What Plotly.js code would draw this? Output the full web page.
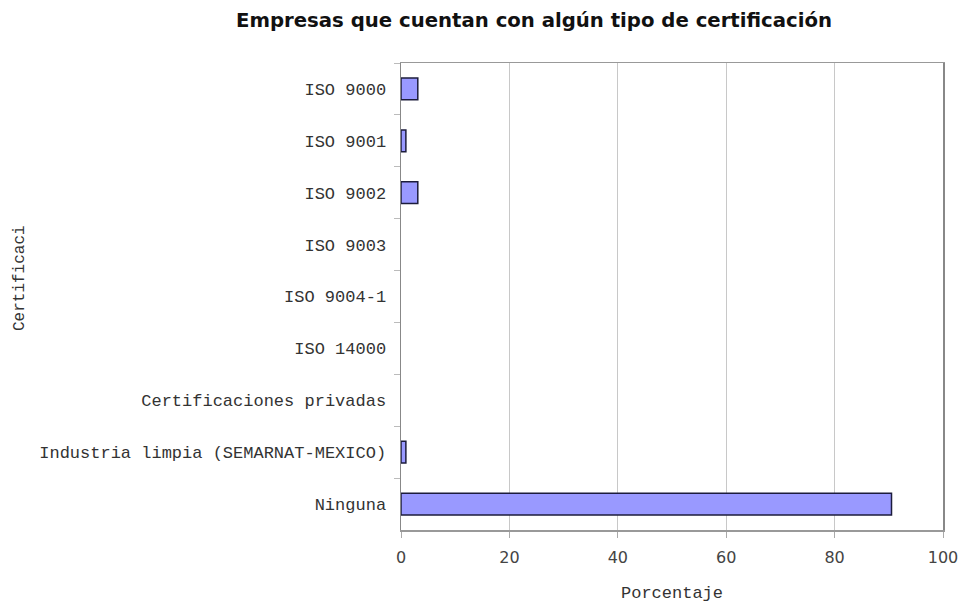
<!DOCTYPE html>
<html>
<head>
<meta charset="utf-8">
<script src="https://cdn.plot.ly/plotly-3.0.1.min.js"></script>
<style>
  html, body { margin: 0; padding: 0; background: #fff; }
  #chart { width: 964px; height: 603px; }
</style>
</head>
<body>
<div id="chart"></div>
<script>
// Certification types held by the surveyed companies (percentage)
const categories = [
  "ISO 9000",
  "ISO 9001",
  "ISO 9002",
  "ISO 9003",
  "ISO 9004-1",
  "ISO 14000",
  "Certificaciones privadas",
  "Industria limpia (SEMARNAT-MEXICO)",
  "Ninguna"
];
const percentages = [3.1, 0.9, 3.1, 0, 0, 0, 0, 0.9, 90.5];
const xTickValues = [0, 20, 40, 60, 80, 100];

// Empty categories get no outline so nothing is drawn for them
const outlineWidths = percentages.map(v => (v > 0 ? 1.5 : 0));

const trace = {
  type: "bar",
  orientation: "h",
  y: categories,
  x: percentages,
  width: 0.42,
  marker: {
    color: "#9999ff",
    line: { color: "#1c1c3c", width: outlineWidths }
  },
  hoverinfo: "x+y"
};

const monoFont = { family: "Liberation Mono, Courier New, monospace", size: 17, color: "#333" };

const layout = {
  width: 964,
  height: 603,
  margin: { l: 401, r: 21, t: 63, b: 73 },
  paper_bgcolor: "#ffffff",
  plot_bgcolor: "#ffffff",
  showlegend: false,
  xaxis: {
    range: [0, 100],
    tickvals: xTickValues,
    ticks: "outside",
    ticklen: 6,
    tickcolor: "#aaa",
    ticklabelstandoff: 6,
    showgrid: true,
    gridcolor: "#c8c8c8",
    gridwidth: 1,
    zeroline: false,
    showline: true,
    linecolor: "#999",
    linewidth: 1.5,
    mirror: true,
    tickfont: { family: "DejaVu Sans, Verdana, sans-serif", size: 16, color: "#444" },
    title: { text: "Porcentaje", font: monoFont, standoff: 24 }
  },
  yaxis: {
    type: "category",
    categoryorder: "array",
    categoryarray: categories,
    autorange: "reversed",
    ticks: "outside",
    tickson: "boundaries",
    ticklen: 6,
    tickcolor: "#bbb",
    ticklabelstandoff: 10,
    showgrid: false,
    zeroline: false,
    showline: true,
    linecolor: "#888",
    linewidth: 1.5,
    mirror: true,
    tickfont: monoFont
  },
  annotations: [
    {
      text: "<b>Empresas que cuentan con algún tipo de certificación</b>",
      xref: "paper", yref: "paper",
      x: (534 - 401) / 542, y: 1 + (63 - 21) / 467,
      xanchor: "center", yanchor: "middle",
      showarrow: false,
      font: { family: "DejaVu Sans, Verdana, sans-serif", size: 19.7, color: "#111" }
    },
    {
      text: "Certificaci",
      xref: "paper", yref: "paper",
      x: (20 - 401) / 542, y: (530 - 278) / 467,
      xanchor: "center", yanchor: "middle",
      textangle: -90,
      showarrow: false,
      font: { family: "Liberation Mono, Courier New, monospace", size: 16, color: "#333" }
    }
  ]
};

Plotly.newPlot("chart", [trace], layout, { displayModeBar: false, staticPlot: true });
</script>
</body>
</html>
